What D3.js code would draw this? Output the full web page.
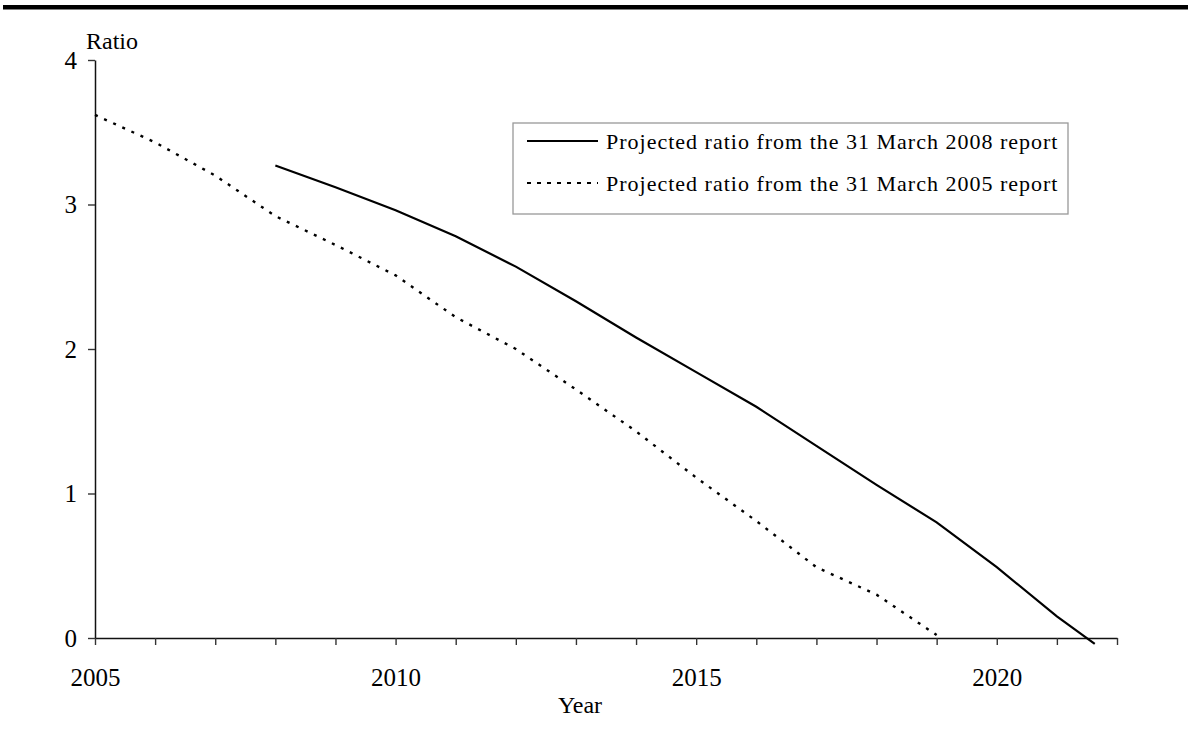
<!DOCTYPE html>
<html>
<head>
<meta charset="utf-8">
<script src="https://cdn.jsdelivr.net/npm/d3@7"></script>
<style>
  html, body { margin: 0; padding: 0; background: #fff; }
  svg { display: block; }
  text { font-family: "Liberation Serif", "Times New Roman", serif; fill: #000; }
</style>
</head>
<body>
<svg id="chart" width="1188" height="733"></svg>
<script>
// ---- data ----
const years2008 = [2008, 2009, 2010, 2011, 2012, 2013, 2014, 2015, 2016, 2017, 2018, 2019, 2020, 2021, 2021.63];
const ratio2008 = [3.27, 3.12, 2.96, 2.78, 2.57, 2.33, 2.08, 1.84, 1.60, 1.33, 1.06, 0.80, 0.49, 0.15, -0.04];
const years2005 = [2005, 2006, 2007, 2008, 2009, 2010, 2011, 2012, 2013, 2014, 2015, 2016, 2017, 2018, 2019];
const ratio2005 = [3.62, 3.43, 3.20, 2.92, 2.72, 2.51, 2.22, 2.00, 1.72, 1.43, 1.11, 0.81, 0.49, 0.30, 0.02];
const yTicks = [0, 1, 2, 3, 4];
const xTicks = [2005, 2006, 2007, 2008, 2009, 2010, 2011, 2012, 2013, 2014, 2015, 2016, 2017, 2018, 2019, 2020, 2021, 2022];
const xLabels = [2005, 2010, 2015, 2020];
const seriesNames = ["Projected ratio from the 31 March 2008 report", "Projected ratio from the 31 March 2005 report"];
const yTitle = "Ratio";
const xTitle = "Year";

// ---- layout ----
const svg = d3.select("#chart");
const x = d3.scaleLinear().domain([2005, 2022]).range([95, 1117]);
const y = d3.scaleLinear().domain([0, 4]).range([638, 60]);

// top rule
svg.append("rect").attr("x", 3).attr("y", 5).attr("width", 1185).attr("height", 4.5).attr("fill", "#000");

// y axis
const yAxis = svg.append("g").attr("transform", `translate(${x(2005)},0)`)
  .call(d3.axisLeft(y).tickValues(yTicks).tickFormat(d3.format("d")).tickSize(7).tickSizeOuter(0).tickPadding(11));
// x axis
const xAxis = svg.append("g").attr("transform", `translate(0,${y(0)})`)
  .call(d3.axisBottom(x).tickValues(xTicks).tickFormat(d => xLabels.includes(d) ? String(d) : "").tickSize(7).tickSizeOuter(0).tickPadding(23));

[yAxis, xAxis].forEach(g => {
  g.select(".domain").attr("stroke", "#111").attr("stroke-width", 1.5);
  g.selectAll(".tick line").attr("stroke", "#333").attr("stroke-width", 1.4);
  g.selectAll(".tick text").style("font-family", '"Liberation Serif", "Times New Roman", serif').style("font-size", "25px").attr("fill", "#000");
});

// axis titles
svg.append("text").attr("x", 86).attr("y", 48.5).style("font-size", "24px").text(yTitle);
svg.append("text").attr("x", 580).attr("y", 712.5).attr("text-anchor", "middle").style("font-size", "24px").text(xTitle);

// lines
const line = d3.line().x(d => x(d[0])).y(d => y(d[1]));
const data2008 = years2008.map((d, i) => [d, ratio2008[i]]);
const data2005 = years2005.map((d, i) => [d, ratio2005[i]]);

svg.append("path").datum(data2005).attr("d", line)
  .attr("fill", "none").attr("stroke", "#000").attr("stroke-width", 2.4).attr("stroke-dasharray", "3,7");
svg.append("path").datum(data2008).attr("d", line)
  .attr("fill", "none").attr("stroke", "#000").attr("stroke-width", 2.2);

// legend
const lg = svg.append("g");
lg.append("rect").attr("x", 513).attr("y", 123).attr("width", 555).attr("height", 91)
  .attr("fill", "#fff").attr("stroke", "#999").attr("stroke-width", 1.3);
const legendRows = [
  { name: seriesNames[0], dash: null, yy: 141 },
  { name: seriesNames[1], dash: "4,6", yy: 183 }
];
legendRows.forEach(r => {
  const l = lg.append("line").attr("x1", 527).attr("x2", 598).attr("y1", r.yy).attr("y2", r.yy)
    .attr("stroke", "#000").attr("stroke-width", 2.2);
  if (r.dash) l.attr("stroke-dasharray", r.dash);
  lg.append("text").attr("x", 606).attr("y", r.yy + 7.5).style("font-size", "22px").style("letter-spacing", "1px").text(r.name);
});
</script>
</body>
</html>
